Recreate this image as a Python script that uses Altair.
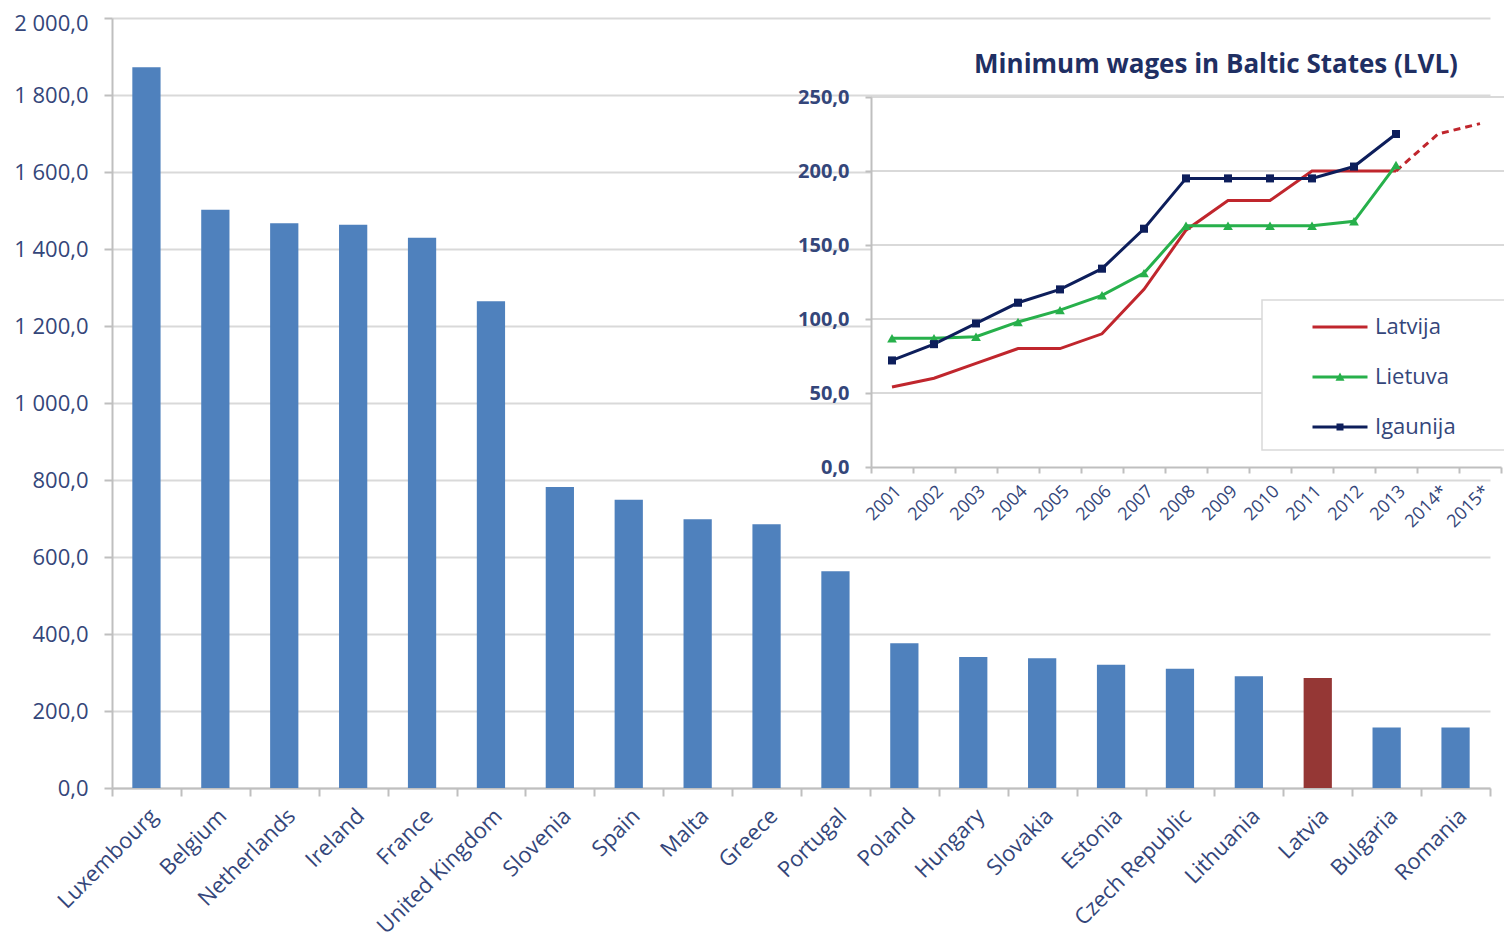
import altair as alt
import pandas as pd

# ---------------- data ----------------
countries = ["Luxembourg", "Belgium", "Netherlands", "Ireland", "France", "United Kingdom",
             "Slovenia", "Spain", "Malta", "Greece", "Portugal", "Poland", "Hungary",
             "Slovakia", "Estonia", "Czech Republic", "Lithuania", "Latvia", "Bulgaria", "Romania"]
wages = [1872, 1502, 1467, 1463, 1429, 1264, 782, 749, 698, 685, 563, 376, 340,
         337, 320, 310, 290, 286, 157, 157]
highlight = ["Latvia"]

years = ["2001", "2002", "2003", "2004", "2005", "2006", "2007", "2008", "2009",
         "2010", "2011", "2012", "2013", "2014*", "2015*"]
latvija = [54, 60, 70, 80, 80, 90, 120, 160, 180, 180, 200, 200, 200]
latvija_proj_years = ["2013", "2014*", "2015*"]
latvija_proj = [200, 225, 232]
lietuva = [87, 87, 88, 98, 106, 116, 131, 163, 163, 163, 163, 166, 204]
igaunija = [72, 83, 97, 111, 120, 134, 161, 195, 195, 195, 195, 203, 225]
series_names = ["Latvija", "Lietuva", "Igaunija"]
series_colors = ["#C0262D", "#27B04B", "#0D1E5B"]
inset_ticks = [0, 50, 100, 150, 200, 250]
main_ticks = list(range(0, 2001, 200))
inset_title = "Minimum wages in Baltic States (LVL)"

# ---------------- layout ----------------
TOP = 10
W, H = 1378, 788 - 8 - TOP
IX0, IX1 = 759, 1389              # inset plot x-range (px inside main plot)
IY0, IY1 = 467 - 8 - TOP, 97 - 8 - TOP   # inset plot y-range (0 -> 250)
FONT = "Open Sans"
LABEL = "#34467A"
GRID = "#D9D9D9"
AXISC = "#BFBFBF"

lbl_expr = "replace(replace(format(datum.value, ',.1f'), ',', ' '), '.', ',')"

main_df = pd.DataFrame({
    "country": countries,
    "value": wages,
    "hl": ["hl" if c in highlight else "base" for c in countries],
})

bars = alt.Chart(main_df).mark_bar(width={"band": 0.41}).encode(
    x=alt.X("country:N", sort=countries, title=None,
            scale=alt.Scale(paddingInner=0, paddingOuter=0),
            axis=alt.Axis(orient="bottom", labelAngle=-45, tickBand="extent", labelFont=FONT,
                          labelFontSize=22, labelColor=LABEL, labelLimit=400, labelPadding=9,
                          domainColor=AXISC, domainWidth=2, tickColor=AXISC, tickWidth=2,
                          tickSize=8, grid=False)),
    y=alt.Y("value:Q", title=None, scale=alt.Scale(domain=[0, 2000], nice=False),
            axis=alt.Axis(orient="left", values=main_ticks, labelExpr=lbl_expr, labelFont=FONT,
                          labelFontSize=22, labelColor=LABEL, labelPadding=16,
                          labelOffset={"condition": {"test": "datum.value >= 2000", "value": 5},
                                       "value": 0},
                          domainColor=AXISC, domainWidth=2, tickColor=AXISC, tickWidth=2,
                          tickSize=8, grid=True, gridColor=GRID, gridWidth=2)),
    color=alt.Color("hl:N", scale=alt.Scale(domain=["base", "hl"], range=["#4F81BD", "#953735"]),
                    legend=None),
)

# ---------------- inset ----------------
rows = []
for name, vals in zip(series_names, [latvija, lietuva, igaunija]):
    for y, v in zip(years, vals):
        rows.append({"year": y, "series": name, "value": v})
inset_df = pd.DataFrame(rows)
proj_df = pd.DataFrame({"year": latvija_proj_years, "value": latvija_proj})
grid_df = pd.DataFrame({"value": inset_ticks[1:]})

x_scale = alt.Scale(type="band", domain=years, range=[IX0, IX1], paddingInner=0, paddingOuter=0)
y_scale = alt.Scale(domain=[0, 250], range=[IY0, IY1], nice=False)
x_axis = alt.Axis(orient="bottom", offset=IY0 - H, labelAngle=-45, tickBand="extent",
                  labelFont=FONT, labelFontSize=18, labelColor=LABEL, labelPadding=9,
                  domainColor=AXISC, domainWidth=2, tickColor=AXISC, tickWidth=2, tickSize=6,
                  grid=False, zindex=1)
y_axis = alt.Axis(orient="left", offset=-IX0, values=inset_ticks, labelExpr=lbl_expr,
                  labelFont=FONT, labelFontSize=20, labelFontWeight="bold", labelColor=LABEL,
                  labelPadding=16, domainColor=AXISC, domainWidth=2, tickColor=AXISC,
                  tickWidth=2, tickSize=6, grid=False, zindex=1)


def ix():
    return alt.X("year:N", scale=x_scale, axis=x_axis, title=None, sort=years)


def iy():
    return alt.Y("value:Q", scale=y_scale, axis=y_axis, title=None)


bg = alt.Chart(pd.DataFrame({"a": [0]})).mark_rect(color="white").encode(
    x=alt.value(IX0), x2=alt.value(IX1), y=alt.value(IY1), y2=alt.value(IY0))

grid = alt.Chart(grid_df).mark_rule(color=GRID, strokeWidth=2).encode(
    y=iy(), x=alt.value(IX0), x2=alt.value(IX1 + 8))

legend_box = alt.Chart(pd.DataFrame({"a": [0]})).mark_rect(
    color="white", stroke=GRID, strokeWidth=1.5).encode(
    x=alt.value(1150), x2=alt.value(1398), y=alt.value(300 - 8 - TOP), y2=alt.value(450 - 8 - TOP))

title_txt = alt.Chart(pd.DataFrame({"t": [inset_title]})).mark_text(
    font=FONT, fontSize=26, fontWeight="bold", color="#1F2F63", align="center",
    baseline="alphabetic").encode(text="t:N", x=alt.value(1104), y=alt.value(73 - 8 - TOP))

lines = []
for name, col in zip(series_names, series_colors):
    lines.append(alt.Chart(inset_df).transform_filter(alt.datum.series == name)
                 .mark_line(color=col, strokeWidth=3).encode(x=ix(), y=iy()))

proj = alt.Chart(proj_df).mark_line(color=series_colors[0], strokeWidth=3,
                                    strokeDash=[7, 5]).encode(x=ix(), y=iy())

pts_lt = alt.Chart(inset_df).transform_filter(alt.datum.series == "Lietuva").mark_point(
    shape="triangle-up", filled=True, size=95, opacity=1, color=series_colors[1]).encode(x=ix(), y=iy())
pts_ee = alt.Chart(inset_df).transform_filter(alt.datum.series == "Igaunija").mark_point(
    shape="square", filled=True, size=65, opacity=1, color=series_colors[2]).encode(x=ix(), y=iy())

line_path = "M-1.1,-0.06L1.1,-0.06L1.1,0.06L-1.1,0.06Z"
sym_paths = [
    line_path,
    line_path + "M-0.18,0.15L0,-0.18L0.18,0.15Z",
    line_path + "M-0.14,-0.14L0.14,-0.14L0.14,0.14L-0.14,0.14Z",
]
legend_def = alt.Legend(title=None, orient="none", legendX=1203, legendY=302 - 8 - TOP, padding=0,
                        symbolSize=2500, rowPadding=14, labelOffset=10, labelFont=FONT,
                        labelFontSize=22, labelColor=LABEL, symbolStrokeWidth=0)
legend_layer = alt.Chart(inset_df).transform_filter("false").mark_point(
    filled=True, opacity=1).encode(
    x=ix(), y=iy(),
    color=alt.Color("series:N", scale=alt.Scale(domain=series_names, range=series_colors),
                    legend=legend_def),
    shape=alt.Shape("series:N", scale=alt.Scale(domain=series_names, range=sym_paths),
                    legend=legend_def),
)

inset = alt.layer(bg, grid, legend_box, title_txt, *lines, proj, pts_lt, pts_ee, legend_layer)

chart = alt.layer(bars, inset).resolve_scale(
    x="independent", y="independent", color="independent", shape="independent"
).properties(
    width=W, height=H, autosize="none",
    padding={"left": 104, "top": TOP, "right": 14, "bottom": 154},
).configure_view(stroke=None)

chart.save("out.html", embed_options={"renderer": "svg", "actions": False})
